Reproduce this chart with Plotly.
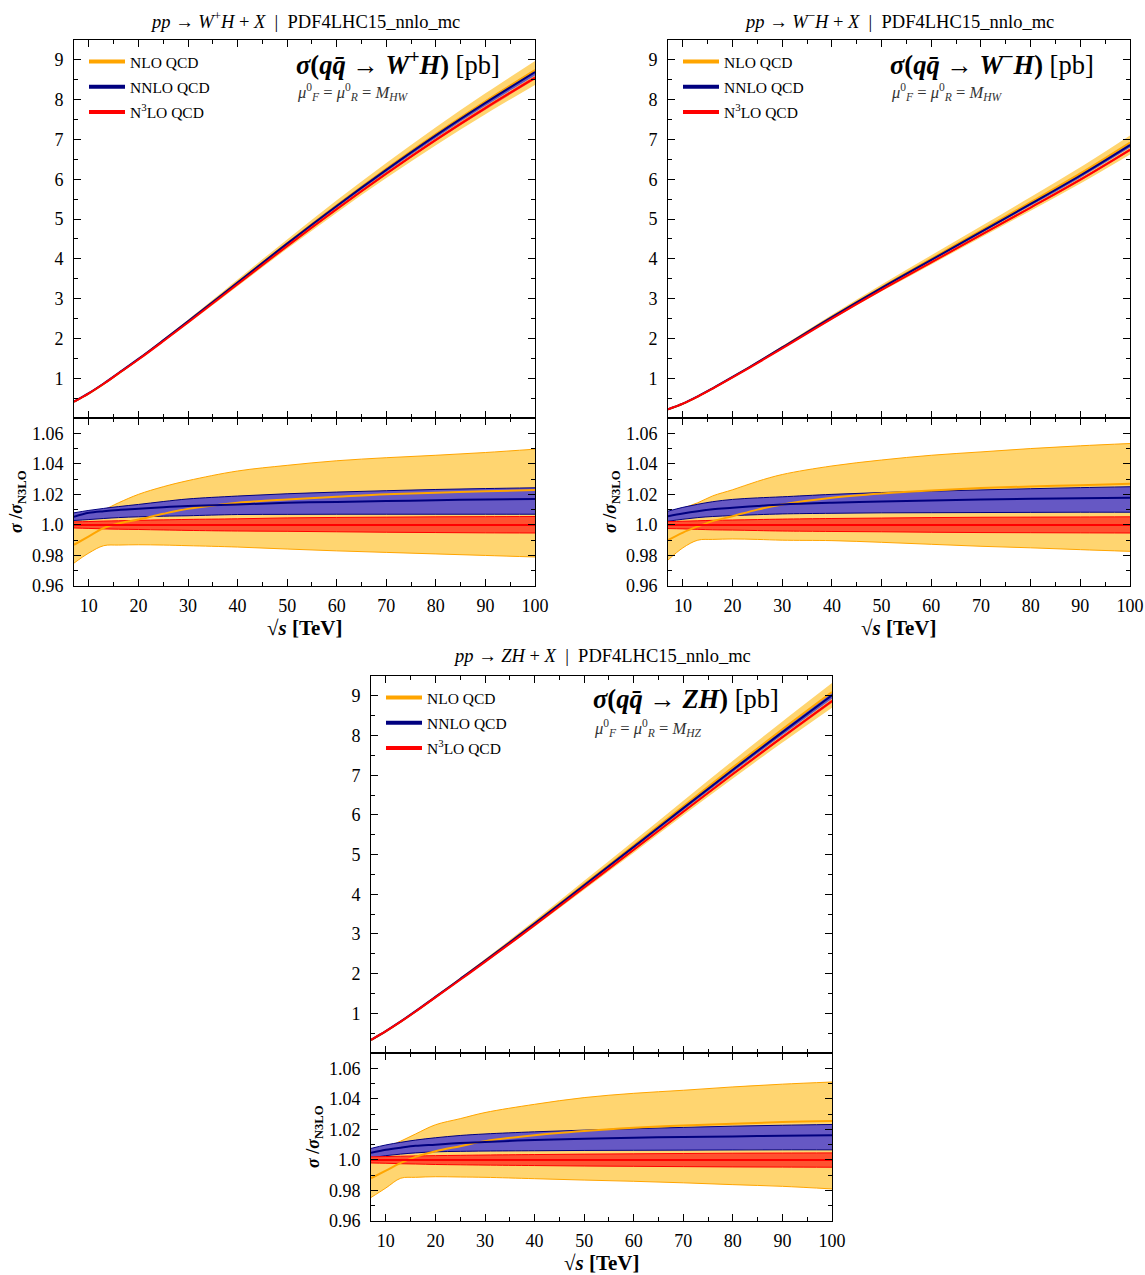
import plotly.graph_objects as go

# ---------------- data ----------------
sqrt_s = [7, 10, 13, 16, 20, 25, 30, 40, 50, 60, 70, 80, 90, 100]

# N3LO central cross sections [pb]
sigma_wp = [0.41, 0.62, 0.86, 1.12, 1.47, 1.93, 2.40, 3.36, 4.32, 5.25, 6.14, 6.99, 7.79, 8.55]
sigma_wm = [0.22, 0.36, 0.54, 0.74, 1.02, 1.38, 1.75, 2.50, 3.22, 3.91, 4.60, 5.29, 5.99, 6.74]
sigma_zh = [0.33, 0.55, 0.79, 1.045, 1.40, 1.845, 2.295, 3.22, 4.17, 5.12, 6.08, 7.03, 7.96, 8.87]

# ratios to N3LO central -- W+H
wp_nlo_up = [1.0053, 1.0078, 1.0100, 1.0145, 1.0200, 1.0250, 1.0290, 1.0353, 1.0390, 1.0420, 1.0440, 1.0456, 1.0474, 1.0496]
wp_nlo_c = [0.9870, 0.9925, 0.9980, 1.0010, 1.0035, 1.0073, 1.0105, 1.0145, 1.0167, 1.0184, 1.0200, 1.0210, 1.0220, 1.0228]
wp_nlo_lo = [0.9750, 0.9816, 0.9864, 0.9868, 0.9870, 0.9868, 0.9864, 0.9855, 0.9842, 0.9830, 0.9820, 0.9810, 0.9800, 0.9790]
wp_nnlo_up = [1.0079, 1.0095, 1.0108, 1.0120, 1.0134, 1.0153, 1.0170, 1.0189, 1.0204, 1.0215, 1.0224, 1.0232, 1.0238, 1.0243]
wp_nnlo_c = [1.0053, 1.0079, 1.0090, 1.0098, 1.0105, 1.0115, 1.0123, 1.0134, 1.0145, 1.0150, 1.0156, 1.0162, 1.0166, 1.0169]
wp_nnlo_lo = [1.0029, 1.0035, 1.0042, 1.0048, 1.0053, 1.0057, 1.0060, 1.0068, 1.0069, 1.0070, 1.0070, 1.0070, 1.0070, 1.0070]
wp_n3lo_up = [1.0020, 1.0022, 1.0025, 1.0027, 1.0030, 1.0033, 1.0036, 1.0040, 1.0046, 1.0049, 1.0051, 1.0053, 1.0054, 1.0055]
wp_n3lo_lo = [0.9980, 0.9977, 0.9974, 0.9972, 0.9970, 0.9967, 0.9964, 0.9960, 0.9958, 0.9955, 0.9952, 0.9950, 0.9948, 0.9947]

# W-H
wm_nlo_up = [1.0075, 1.0110, 1.0145, 1.0190, 1.0230, 1.0285, 1.0330, 1.0386, 1.0425, 1.0456, 1.0478, 1.0500, 1.0518, 1.0533]
wm_nlo_c = [0.9900, 0.9950, 0.9990, 1.0025, 1.0057, 1.0100, 1.0134, 1.0178, 1.0206, 1.0226, 1.0241, 1.0252, 1.0260, 1.0270]
wm_nlo_lo = [0.9770, 0.9850, 0.9900, 0.9905, 0.9908, 0.9905, 0.9900, 0.9897, 0.9886, 0.9873, 0.9860, 0.9850, 0.9838, 0.9827]
wm_nnlo_up = [1.0090, 1.0115, 1.0135, 1.0152, 1.0167, 1.0177, 1.0184, 1.0200, 1.0212, 1.0221, 1.0229, 1.0237, 1.0244, 1.0250]
wm_nnlo_c = [1.0057, 1.0075, 1.0090, 1.0102, 1.0112, 1.0124, 1.0134, 1.0145, 1.0153, 1.0160, 1.0166, 1.0171, 1.0175, 1.0178]
wm_nnlo_lo = [1.0024, 1.0037, 1.0048, 1.0055, 1.0061, 1.0067, 1.0072, 1.0076, 1.0079, 1.0080, 1.0081, 1.0082, 1.0083, 1.0083]
wm_n3lo_up = [1.0022, 1.0024, 1.0027, 1.0030, 1.0032, 1.0035, 1.0038, 1.0042, 1.0045, 1.0048, 1.0050, 1.0051, 1.0052, 1.0053]
wm_n3lo_lo = [0.9976, 0.9974, 0.9971, 0.9968, 0.9966, 0.9963, 0.9960, 0.9957, 0.9955, 0.9952, 0.9950, 0.9949, 0.9948, 0.9947]

# ZH
zh_nlo_up = [1.0035, 1.0080, 1.0123, 1.0170, 1.0230, 1.0270, 1.0310, 1.0364, 1.0408, 1.0436, 1.0456, 1.0478, 1.0496, 1.0510]
zh_nlo_c = [0.9880, 0.9930, 0.9980, 1.0020, 1.0057, 1.0090, 1.0123, 1.0162, 1.0189, 1.0210, 1.0226, 1.0237, 1.0248, 1.0254]
zh_nlo_lo = [0.9754, 0.9816, 0.9880, 0.9886, 0.9890, 0.9888, 0.9886, 0.9877, 0.9868, 0.9860, 0.9850, 0.9838, 0.9827, 0.9810]
zh_nnlo_up = [1.0075, 1.0098, 1.0115, 1.0130, 1.0145, 1.0160, 1.0170, 1.0184, 1.0195, 1.0204, 1.0213, 1.0221, 1.0227, 1.0232]
zh_nnlo_c = [1.0046, 1.0066, 1.0080, 1.0092, 1.0100, 1.0110, 1.0118, 1.0130, 1.0138, 1.0145, 1.0150, 1.0154, 1.0158, 1.0162]
zh_nnlo_lo = [1.0013, 1.0028, 1.0038, 1.0046, 1.0053, 1.0056, 1.0058, 1.0060, 1.0062, 1.0063, 1.0064, 1.0065, 1.0066, 1.0066]
zh_n3lo_up = [1.0020, 1.0022, 1.0024, 1.0026, 1.0028, 1.0030, 1.0032, 1.0035, 1.0038, 1.0040, 1.0042, 1.0044, 1.0045, 1.0046]
zh_n3lo_lo = [0.9980, 0.9978, 0.9975, 0.9973, 0.9970, 0.9968, 0.9966, 0.9963, 0.9960, 0.9958, 0.9956, 0.9954, 0.9953, 0.9952]

x_ticks = [10, 20, 30, 40, 50, 60, 70, 80, 90, 100]
main_ticks = [1, 2, 3, 4, 5, 6, 7, 8, 9]
ratio_ticks = [0.96, 0.98, 1.0, 1.02, 1.04, 1.06]
ratio_labels = ["0.96", "0.98", "1.0", "1.02", "1.04", "1.06"]
legend_names = ["NLO QCD", "NNLO QCD", "N<sup>3</sup>LO QCD"]

# ---------------- style ----------------
FONT = "Liberation Serif"
C_NLO, C_NLO_F = "#FFA500", "rgb(255,213,112)"
C_NNLO, C_NNLO_F = "#00007F", "rgb(102,88,196)"
C_N3LO, C_N3LO_F = "#FF0000", "rgb(255,82,48)"

W, H = 1145, 1275


def px(v):
    return v / W


def py(v):
    return 1 - v / H


fig = go.Figure()

panels = [
    dict(sig=sigma_wp, r=(wp_nlo_lo, wp_nlo_c, wp_nlo_up, wp_nnlo_lo, wp_nnlo_c, wp_nnlo_up, wp_n3lo_lo, wp_n3lo_up),
         ax=("x", "y", "x2", "y2"), leg="legend",
         box=(74, 535, 40, 418, 586),
         title="<i>pp</i> → <i>W</i><sup>+</sup><i>H</i> + <i>X</i>  |  PDF4LHC15_nnlo_mc",
         proc="<b><i>σ</i>(<i>q</i><i>q̄</i> → <i>W</i><sup>+</sup><i>H</i>)</b> [pb]",
         scale="<i>μ</i><sup>0</sup><sub><i>F</i></sub> = <i>μ</i><sup>0</sup><sub><i>R</i></sub> = <i>M</i><sub><i>HW</i></sub>"),
    dict(sig=sigma_wm, r=(wm_nlo_lo, wm_nlo_c, wm_nlo_up, wm_nnlo_lo, wm_nnlo_c, wm_nnlo_up, wm_n3lo_lo, wm_n3lo_up),
         ax=("x3", "y3", "x4", "y4"), leg="legend2",
         box=(668, 1130, 40, 418, 586),
         title="<i>pp</i> → <i>W</i><sup>−</sup><i>H</i> + <i>X</i>  |  PDF4LHC15_nnlo_mc",
         proc="<b><i>σ</i>(<i>q</i><i>q̄</i> → <i>W</i><sup>−</sup><i>H</i>)</b> [pb]",
         scale="<i>μ</i><sup>0</sup><sub><i>F</i></sub> = <i>μ</i><sup>0</sup><sub><i>R</i></sub> = <i>M</i><sub><i>HW</i></sub>"),
    dict(sig=sigma_zh, r=(zh_nlo_lo, zh_nlo_c, zh_nlo_up, zh_nnlo_lo, zh_nnlo_c, zh_nnlo_up, zh_n3lo_lo, zh_n3lo_up),
         ax=("x5", "y5", "x6", "y6"), leg="legend3",
         box=(371, 832, 676, 1053, 1221),
         title="<i>pp</i> → <i>ZH</i> + <i>X</i>  |  PDF4LHC15_nnlo_mc",
         proc="<b><i>σ</i>(<i>q</i><i>q̄</i> → <i>ZH</i>)</b> [pb]",
         scale="<i>μ</i><sup>0</sup><sub><i>F</i></sub> = <i>μ</i><sup>0</sup><sub><i>R</i></sub> = <i>M</i><sub><i>HZ</i></sub>"),
]

annotations = []
layout_axes = {}

for p in panels:
    sig = p["sig"]
    nlo_lo, nlo_c, nlo_up, nnlo_lo, nnlo_c, nnlo_up, n3_lo, n3_up = p["r"]
    xm, ym, xr, yr = p["ax"]
    n3_c = [1.0] * len(sqrt_s)

    for (xa, ya, is_main) in [(xm, ym, True), (xr, yr, False)]:
        def tr(vals):
            return [s * v for s, v in zip(sig, vals)] if is_main else list(vals)

        ew = 0 if is_main else 1.0
        bands = [(nlo_lo, nlo_up, C_NLO_F, C_NLO), (nnlo_lo, nnlo_up, C_NNLO_F, C_NNLO), (n3_lo, n3_up, C_N3LO_F, C_N3LO)]
        for lo, hi, fc, lc in bands:
            fig.add_trace(go.Scatter(x=sqrt_s, y=tr(lo), mode="lines", line=dict(color=lc, width=ew, shape="spline"),
                                     xaxis=xa, yaxis=ya, showlegend=False, hoverinfo="skip"))
            fig.add_trace(go.Scatter(x=sqrt_s, y=tr(hi), mode="lines", line=dict(color=lc, width=ew, shape="spline"),
                                     fill="tonexty", fillcolor=fc,
                                     xaxis=xa, yaxis=ya, showlegend=False, hoverinfo="skip"))
        for vals, lc in [(nlo_c, C_NLO), (nnlo_c, C_NNLO), (n3_c, C_N3LO)]:
            fig.add_trace(go.Scatter(x=sqrt_s, y=tr(vals), mode="lines", line=dict(color=lc, width=2, shape="spline"),
                                     xaxis=xa, yaxis=ya, showlegend=False, hoverinfo="skip"))

    # legend entries
    for i, (name, lc) in enumerate(zip(legend_names, [C_NLO, C_NNLO, C_N3LO])):
        fig.add_trace(go.Scatter(x=[None], y=[None], mode="lines", line=dict(color=lc, width=4),
                                 name=name, legend=p["leg"], legendgroup=p["leg"] + str(i),
                                 xaxis=xm, yaxis=ym, showlegend=True))

    x0, x1, yt, ymid, yb = p["box"]
    common = dict(showline=True, linecolor="black", linewidth=1, mirror="allticks", ticks="inside",
                  tickcolor="black", ticklen=7, tickwidth=1, showgrid=False, zeroline=False, automargin=False,
                  tickfont=dict(family=FONT, size=18, color="black"))
    xkey_m = "xaxis" + xm[1:]
    ykey_m = "yaxis" + ym[1:]
    xkey_r = "xaxis" + xr[1:]
    ykey_r = "yaxis" + yr[1:]
    layout_axes[xkey_m] = dict(common, domain=[px(x0), px(x1)], anchor=ym, range=[7, 100], tickvals=x_ticks,
                               showticklabels=False, matches=xr,
                               minor=dict(ticks="inside", ticklen=4, dtick=5, tick0=0, tickcolor="black"))
    layout_axes[ykey_m] = dict(common, domain=[py(ymid), py(yt)], anchor=xm, range=[0, 9.5], tickvals=main_ticks,
                               minor=dict(ticks="inside", ticklen=4, dtick=0.5, tick0=0, tickcolor="black"),
                               ticklabelstandoff=6)
    layout_axes[xkey_r] = dict(common, domain=[px(x0), px(x1)], anchor=yr, range=[7, 100], tickvals=x_ticks,
                               minor=dict(ticks="inside", ticklen=4, dtick=5, tick0=0, tickcolor="black"),
                               ticklabelstandoff=3)
    layout_axes[ykey_r] = dict(common, domain=[py(yb), py(ymid)], anchor=xr, range=[0.96, 1.07],
                               tickvals=ratio_ticks, ticktext=ratio_labels,
                               minor=dict(ticks="inside", ticklen=4, dtick=0.01, tick0=0.96, tickcolor="black"),
                               ticklabelstandoff=6)

    annotations.append(dict(text=p["title"], x=px((x0 + x1) / 2), y=py(yt - 20), xref="paper", yref="paper",
                            xanchor="center", yanchor="middle", showarrow=False,
                            font=dict(family=FONT, size=18.5, color="black")))
    annotations.append(dict(text=p["proc"], x=px(x0 + 220), y=py(yt + 23), xref="paper", yref="paper",
                            xanchor="left", yanchor="middle", showarrow=False,
                            font=dict(family=FONT, size=26.5, color="black")))
    annotations.append(dict(text=p["scale"], x=px(x0 + 221), y=py(yt + 52), xref="paper", yref="paper",
                            xanchor="left", yanchor="middle", showarrow=False,
                            font=dict(family=FONT, size=16.5, color="#333333")))
    annotations.append(dict(text="<b>√<i>s</i></b> <b>[TeV]</b>", x=px((x0 + x1) / 2), y=py(yb + 42),
                            xref="paper", yref="paper", xanchor="center", yanchor="middle", showarrow=False,
                            font=dict(family=FONT, size=21, color="black")))
    annotations.append(dict(text="<b><i>σ</i> /<i>σ</i><sub>N3LO</sub></b>", x=px(x0 - 57), y=py((ymid + yb) / 2),
                            xref="paper", yref="paper", xanchor="center", yanchor="middle", showarrow=False,
                            textangle=-90, font=dict(family=FONT, size=18, color="black")))
    layout_axes[p["leg"]] = dict(x=px(x0 + 10), y=py(yt + 5), xanchor="left", yanchor="top",
                                 bgcolor="rgba(0,0,0,0)", borderwidth=0, tracegroupgap=2,
                                 font=dict(family=FONT, size=15.5, color="black"), itemwidth=36)

fig.update_layout(template="none", width=W, height=H, autosize=False, margin=dict(l=0, r=0, t=0, b=0),
                  paper_bgcolor="white", plot_bgcolor="white", annotations=annotations,
                  font=dict(family=FONT, color="black"), **layout_axes)

fig.write_html("out.html", config={"displayModeBar": False},
               post_script="document.body.style.margin='0';document.body.style.overflow='hidden';")
